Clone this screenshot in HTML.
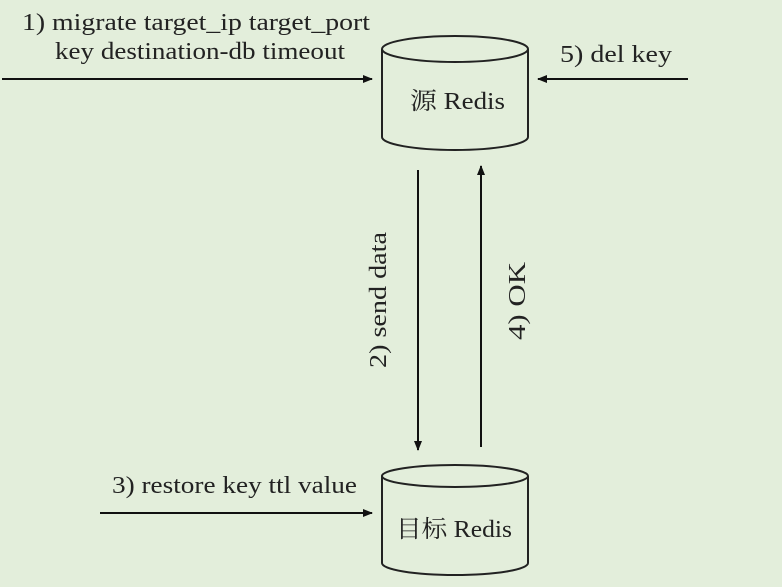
<!DOCTYPE html>
<html><head><meta charset="utf-8"><style>
html,body{margin:0;padding:0;background:#e3eedb;}
svg{display:block}
text{font-family:"Liberation Serif","Noto Serif CJK SC",serif;fill:#222;}
</style></head><body>
<svg width="782" height="587" viewBox="0 0 782 587" xmlns="http://www.w3.org/2000/svg">
<defs><marker id="a" markerWidth="10" markerHeight="8" refX="9" refY="4" orient="auto" markerUnits="userSpaceOnUse"><path d="M0,0 L10,4 L0,8 Z" fill="#111"/></marker></defs>
<rect width="782" height="587" fill="#e3eedb"/>
<path d="M382,49 L382,137 A73,13 0 0 0 528,137 L528,49" fill="#e3eedb" stroke="#222" stroke-width="2"/>
<ellipse cx="455" cy="49" rx="73" ry="13" fill="#e3eedb" stroke="#222" stroke-width="2"/>
<text x="410" y="109" font-size="24" textLength="95" lengthAdjust="spacingAndGlyphs">源 Redis</text>
<path d="M382,476 L382,563 A73,12 0 0 0 528,563 L528,476" fill="#e3eedb" stroke="#222" stroke-width="2"/>
<ellipse cx="455" cy="476" rx="73" ry="11" fill="#e3eedb" stroke="#222" stroke-width="2"/>
<text x="396" y="537" font-size="24" textLength="116" lengthAdjust="spacingAndGlyphs">目标 Redis</text>
<line x1="2" y1="79" x2="372" y2="79" stroke="#111" stroke-width="2" marker-end="url(#a)"/>
<line x1="688" y1="79" x2="538" y2="79" stroke="#111" stroke-width="2" marker-end="url(#a)"/>
<line x1="418" y1="170" x2="418" y2="450" stroke="#111" stroke-width="2" marker-end="url(#a)"/>
<line x1="481" y1="447" x2="481" y2="166" stroke="#111" stroke-width="2" marker-end="url(#a)"/>
<line x1="100" y1="513" x2="372" y2="513" stroke="#111" stroke-width="2" marker-end="url(#a)"/>
<text x="22" y="30" font-size="24" textLength="348" lengthAdjust="spacingAndGlyphs">1) migrate target_ip target_port</text>
<text x="55" y="59" font-size="24" textLength="290" lengthAdjust="spacingAndGlyphs">key destination-db timeout</text>
<text x="560" y="62" font-size="24" textLength="112" lengthAdjust="spacingAndGlyphs">5) del key</text>
<text x="112" y="493" font-size="24" textLength="245" lengthAdjust="spacingAndGlyphs">3) restore key ttl value</text>
<text transform="translate(386,368) rotate(-90)" font-size="24" textLength="136" lengthAdjust="spacingAndGlyphs">2) send data</text>
<text transform="translate(525,340) rotate(-90)" font-size="24" textLength="78" lengthAdjust="spacingAndGlyphs">4) OK</text>
</svg>
</body></html>
